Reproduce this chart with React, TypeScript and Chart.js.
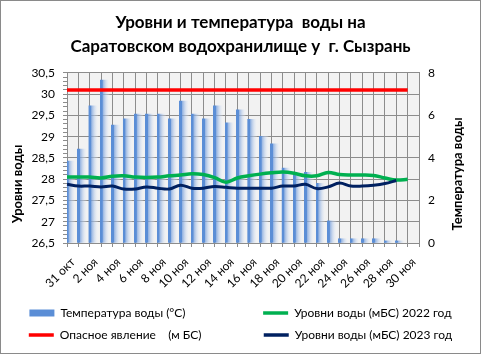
import React, { useEffect, useRef } from 'react';
import { Chart, registerables } from 'chart.js';

Chart.register(...registerables);

const FONT = 'Lato';

const dayLabels = [
  '31 окт', '1 ноя', '2 ноя', '3 ноя', '4 ноя', '5 ноя', '6 ноя', '7 ноя', '8 ноя', '9 ноя',
  '10 ноя', '11 ноя', '12 ноя', '13 ноя', '14 ноя', '15 ноя', '16 ноя', '17 ноя', '18 ноя', '19 ноя',
  '20 ноя', '21 ноя', '22 ноя', '23 ноя', '24 ноя', '25 ноя', '26 ноя', '27 ноя', '28 ноя', '29 ноя',
  '30 ноя',
];

// Температура воды (°C), right axis
const waterTemp = [
  3.86, 4.42, 6.45, 7.67, 5.55, 5.84, 6.07, 6.07, 6.07, 5.84,
  6.68, 6.07, 5.84, 6.45, 5.65, 6.26, 5.82, 5.02, 4.66, 3.53,
  3.28, 3.33, 2.81, 1.04, 0.2, 0.2, 0.2, 0.2, 0.1, 0.1,
  null,
];

// Уровни воды (мБС) 2022 год
const level2022 = [
  28.05, 28.05, 28.05, 28.03, 28.07, 28.08, 28.05, 28.04, 28.05, 28.08,
  28.1, 28.13, 28.11, 28.04, 27.93, 28.03, 28.08, 28.12, 28.15, 28.17,
  28.14, 28.08, 28.08, 28.16, 28.11, 28.1, 28.1, 28.09, 28.03, 27.98,
  28.0,
];

// Уровни воды (мБС) 2023 год
const level2023 = [
  27.88, 27.84, 27.84, 27.82, 27.84, 27.77, 27.77, 27.82, 27.79, 27.77,
  27.86, 27.79, 27.79, 27.83, 27.81, 27.79, 27.79, 27.79, 27.79, 27.84,
  27.84, 27.88, 27.78, 27.82, 27.91, 27.84, 27.84, 27.86, 27.9, 27.97,
  null,
];

// Опасное явление (м БС)
const dangerLevel = [
  30.1, 30.1, 30.1, 30.1, 30.1, 30.1, 30.1, 30.1, 30.1, 30.1,
  30.1, 30.1, 30.1, 30.1, 30.1, 30.1, 30.1, 30.1, 30.1, 30.1,
  30.1, 30.1, 30.1, 30.1, 30.1, 30.1, 30.1, 30.1, 30.1, 30.1,
  30.1,
];

const titleLines = ['Уровни и температура  воды на', 'Саратовском водохранилище у  г. Сызрань'];
const leftAxisTitle = 'Уровни воды';
const rightAxisTitle = 'Температура воды';
const legendTexts = [
  'Температура воды (°C)',
  'Уровни воды (мБС) 2022 год',
  'Опасное явление    (м БС)',
  'Уровни воды (мБС) 2023 год',
];

const BLUE = '#5B8ED6';
const RED = '#FF0000';
const GREEN = '#00B050';
const NAVY = '#002060';
const GRID = '#8C8C8C';

export default function App() {
  const ref = useRef<HTMLCanvasElement>(null);

  useEffect(() => {
    document.body.style.margin = '0';
    const canvas = ref.current;
    if (!canvas) return;

    const barFill = (c: any) => {
      if (c.type !== 'data') return BLUE;
      const chart = c.chart;
      const xs = chart.scales && chart.scales.x;
      if (!xs) return BLUE;
      const px = xs.getPixelForValue(c.dataIndex);
      if (!isFinite(px)) return BLUE;
      const g = chart.ctx.createLinearGradient(px - 8, 0, px + 8, 0);
      g.addColorStop(0, 'rgba(91,142,214,0)');
      g.addColorStop(0.42, 'rgba(91,142,214,0)');
      g.addColorStop(0.43, BLUE);
      g.addColorStop(0.58, BLUE);
      g.addColorStop(0.62, 'rgba(120,160,220,0.75)');
      g.addColorStop(0.8, 'rgba(185,205,235,0.55)');
      g.addColorStop(1, 'rgba(235,240,248,0.2)');
      return g;
    };

    const decor = {
      id: 'decor',
      beforeDraw(chart: any) {
        const { ctx, chartArea: a } = chart;
        ctx.save();
        ctx.fillStyle = '#F2F2F2';
        ctx.fillRect(a.left, a.top, a.right - a.left, a.bottom - a.top);
        ctx.restore();
      },
      afterDraw(chart: any) {
        const { ctx, chartArea: a } = chart;
        const mid = (a.top + a.bottom) / 2;
        ctx.save();
        ctx.font = `bold 13px ${FONT}`;
        ctx.fillStyle = '#000';
        ctx.textAlign = 'center';
        ctx.textBaseline = 'middle';
        ctx.translate(chart.scales.y.left + 17, mid + 26);
        ctx.rotate(-Math.PI / 2);
        ctx.fillText(leftAxisTitle, 0, 0);
        ctx.restore();
        ctx.save();
        ctx.font = `bold 13px ${FONT}`;
        ctx.fillStyle = '#000';
        ctx.textAlign = 'center';
        ctx.textBaseline = 'middle';
        ctx.translate(chart.scales.y1.right - 22, mid + 16);
        ctx.rotate(-Math.PI / 2);
        ctx.fillText(rightAxisTitle, 0, 0);
        ctx.restore();
      },
    };

    const chart = new Chart(canvas, {
      type: 'bar',
      data: {
        labels: [...dayLabels, ''],
        datasets: [
          {
            type: 'line',
            label: legendTexts[3],
            data: level2023,
            yAxisID: 'y',
            borderColor: NAVY,
            backgroundColor: NAVY,
            borderWidth: 3,
            pointRadius: 0,
            tension: 0.35,
            order: 0,
          },
          {
            type: 'line',
            label: legendTexts[1],
            data: level2022,
            yAxisID: 'y',
            borderColor: GREEN,
            backgroundColor: GREEN,
            borderWidth: 3.5,
            pointRadius: 0,
            tension: 0.35,
            order: 1,
          },
          {
            type: 'line',
            label: legendTexts[2],
            data: dangerLevel,
            yAxisID: 'y',
            borderColor: RED,
            backgroundColor: RED,
            borderWidth: 3.5,
            pointRadius: 0,
            tension: 0,
            order: 2,
          },
          {
            type: 'bar',
            label: legendTexts[0],
            data: waterTemp,
            yAxisID: 'y1',
            backgroundColor: barFill,
            borderWidth: 0,
            barThickness: 16,
            order: 3,
          },
        ],
      } as any,
      options: {
        animation: false,
        responsive: false,
        events: [],
        layout: { padding: { left: 0, right: 0, top: 0, bottom: 2 } },
        font: { family: FONT },
        plugins: {
          tooltip: { enabled: false },
          title: {
            display: true,
            text: titleLines,
            color: '#000',
            font: { family: FONT, size: 17, weight: 'bold', lineHeight: 1.44 },
            padding: { top: 9, bottom: 14 },
          },
          legend: {
            position: 'bottom',
            align: 'center',
            labels: {
              usePointStyle: true,
              pointStyleWidth: 25,
              boxHeight: 7,
              padding: 10,
              color: '#000',
              font: { family: FONT, size: 12 },
              generateLabels: (ch: any) => {
                const ctx = ch.ctx;
                ctx.save();
                ctx.font = `normal 12px ${FONT}`;
                const w = (t: string) => ctx.measureText(t).width;
                const padTo = (t: string, target: number) => {
                  let s = t;
                  while (w(s) < target - 1) s += ' ';
                  return s;
                };
                const t2 = Math.max(147, w(legendTexts[1]), w(legendTexts[3]));
                const items = [
                  { text: padTo(legendTexts[0], 192), fillStyle: BLUE, strokeStyle: BLUE, lineWidth: 0, pointStyle: 'rect', datasetIndex: 3 },
                  { text: padTo(legendTexts[1], t2), fillStyle: GREEN, strokeStyle: GREEN, lineWidth: 3.5, pointStyle: 'line', datasetIndex: 1 },
                  { text: padTo(legendTexts[2], 192), fillStyle: RED, strokeStyle: RED, lineWidth: 3.5, pointStyle: 'line', datasetIndex: 2 },
                  { text: padTo(legendTexts[3], t2), fillStyle: NAVY, strokeStyle: NAVY, lineWidth: 3.5, pointStyle: 'line', datasetIndex: 0 },
                ];
                ctx.restore();
                return items.map((it) => ({ ...it, hidden: false, lineCap: 'butt', fontColor: '#000' }));
              },
            },
          },
        },
        scales: {
          x: {
            type: 'category',
            offset: false,
            grid: { offset: false, color: GRID, tickColor: GRID, tickLength: 4, lineWidth: 1 },
            border: { color: GRID },
            ticks: {
              autoSkip: false,
              maxRotation: 45,
              minRotation: 45,
              labelOffset: 6,
              padding: 8,
              color: '#000',
              font: { family: FONT, size: 12 },
              callback: (_v: any, i: number) => (i % 2 === 0 ? dayLabels[i] ?? '' : ''),
            },
            afterFit: (s: any) => {
              s.height = 54;
            },
          },
          y: {
            type: 'linear',
            position: 'left',
            min: 26.5,
            max: 30.5,
            grid: {
              color: (c: any) => {
                const r = Math.round(c.tick.value * 10);
                return r % 5 === 0 ? GRID : 'rgba(0,0,0,0)';
              },
              tickColor: GRID,
              tickLength: 4,
            },
            border: { color: GRID },
            ticks: {
              stepSize: 0.1,
              autoSkip: false,
              padding: 8,
              color: '#000',
              font: { family: FONT, size: 12 },
              callback: (v: any) => {
                const r = Math.round(Number(v) * 10);
                if (r % 5 !== 0) return '';
                return (r / 10).toString().replace('.', ',');
              },
            },
            afterFit: (s: any) => {
              s.width = 66;
            },
          },
          y1: {
            type: 'linear',
            position: 'right',
            min: 0,
            max: 8,
            grid: { drawOnChartArea: false, tickColor: GRID, tickLength: -4 },
            border: { color: GRID },
            ticks: {
              stepSize: 1,
              autoSkip: false,
              padding: 13,
              color: '#000',
              font: { family: FONT, size: 12 },
              callback: (v: any) => (Number(v) % 2 === 0 ? String(v) : ''),
            },
            afterFit: (s: any) => {
              s.width = 61;
            },
          },
        },
      } as any,
      plugins: [decor],
    });

    return () => chart.destroy();
  }, []);

  return (
    <div
      style={{
        width: 481,
        height: 354,
        border: '1px solid #8a8a8a',
        boxSizing: 'border-box',
        background: '#fff',
      }}
    >
      <canvas ref={ref} width={479} height={352} style={{ display: 'block' }} />
    </div>
  );
}
